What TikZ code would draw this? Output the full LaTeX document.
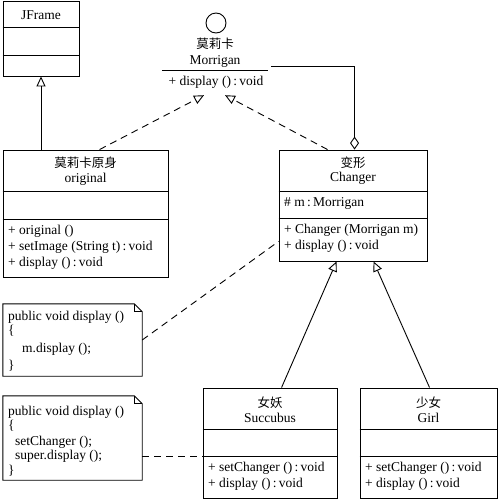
\documentclass[tikz,border=0pt]{standalone}
\usepackage{fontspec}
\setmainfont{Liberation Serif}
\newfontfamily\cjk{Noto Sans CJK SC}
\usetikzlibrary{arrows.meta,calc}
\newcommand\divline[2]{\draw[thinline] ($(#1.north west)+(0,#2)$) -- ($(#1.north east)+(0,#2)$);}
\newcommand\cln{\,:\,}
\begin{document}
\begin{tikzpicture}[x=1pt,y=-1pt,
  thinline/.style={line width=0.9pt},
  cls/.style={draw, line width=0.9pt, inner sep=0pt},
  lbl/.style={inner sep=0pt, font=\fontsize{13.5}{15}\selectfont},
  cjkl/.style={inner sep=0pt, font=\cjk\fontsize{12.5}{15}\selectfont},
  mem/.style={lbl, anchor=mid west},
  gen/.style={draw, line width=0.9pt, -{Triangle[open,length=10pt,width=9pt]}},
  real/.style={gen, dash pattern=on 7pt off 5pt},
  agg/.style={draw, line width=0.9pt, -{Diamond[open,length=13pt,width=9pt]}},
  noteline/.style={line width=0.9pt, dash pattern=on 7pt off 5pt}]
\fill[white] (0,0) rectangle (500,501);
\useasboundingbox (0,0) rectangle (500,501);

% JFrame
\node[cls, minimum width=76, minimum height=75] (jframe) at (41,38.5) {};
\divline{jframe}{27}
\divline{jframe}{55}
\node[lbl] (jframeT) at (41,15) {JFrame};

% interface Morrigan
\node[draw, circle, line width=0.9pt, minimum size=20, inner sep=0pt] (icirc) at (216,23) {};
\node[cjkl] (ifaceC) at (215,44) {莫莉卡};
\node[lbl] (ifaceN) at (215,61) {Morrigan};
\node[minimum width=106, minimum height=24, inner sep=0pt] (iface) at (215,83) {};
\draw[thinline] (iface.north west) -- (iface.north east);
\node[lbl] (ifaceM) at (216,82) {+ display ()\cln void};

% original
\node[cls, minimum width=165, minimum height=127] (orig) at (85.5,213.5) {};
\divline{orig}{42}
\divline{orig}{70}
\node[cjkl] (origC) at (85.5,163) {莫莉卡原身};
\node[lbl] (origN) at (85.5,179) {original};
\node[mem] (origM1) at (8,232) {+ original ()};
\node[mem] (origM2) at (8,248) {+ setImage (String t)\cln void};
\node[mem] (origM3) at (8,264) {+ display ()\cln void};

% Changer
\node[cls, minimum width=148, minimum height=111] (changer) at (353,205.5) {};
\divline{changer}{42}
\divline{changer}{69}
\node[cjkl] (changerC) at (353,163) {变形};
\node[lbl] (changerN) at (353,178) {Changer};
\node[mem] (changerA) at (284,204) {\# m\cln Morrigan};
\node[mem] (changerM1) at (284,231) {+ Changer (Morrigan m)};
\node[mem] (changerM2) at (284,247) {+ display ()\cln void};

% Succubus
\node[cls, minimum width=134, minimum height=110] (succ) at (270,443) {};
\divline{succ}{42}
\divline{succ}{69}
\node[cjkl] (succC) at (270,403) {女妖};
\node[lbl] (succN) at (270,418) {Succubus};
\node[mem] (succM1) at (208,469) {+ setChanger ()\cln void};
\node[mem] (succM2) at (208,485) {+ display ()\cln void};

% Girl
\node[cls, minimum width=137, minimum height=110] (girl) at (428.5,443) {};
\divline{girl}{42}
\divline{girl}{69}
\node[cjkl] (girlC) at (428.5,403) {少女};
\node[lbl] (girlN) at (428.5,418) {Girl};
\node[mem] (girlM1) at (365,469) {+ setChanger ()\cln void};
\node[mem] (girlM2) at (365,485) {+ display ()\cln void};

% notes
\node[minimum width=139, minimum height=72, inner sep=0pt] (note1) at (72.5,340) {};
\draw[thinline] (note1.north west) -- ($(note1.north east)+(-8,0)$) -- ($(note1.north east)+(0,8)$) -- (note1.south east) -- (note1.south west) -- cycle;
\draw[thinline] ($(note1.north east)+(-8,0)$) -- ($(note1.north east)+(-8,8)$) -- ($(note1.north east)+(0,8)$);
\node[mem] (n1a) at (8,318) {public void display ()};
\node[mem] (n1b) at (8,332) {\{};
\node[mem] (n1c) at (22,350) {m.display ();};
\node[mem] (n1d) at (8,367) {\}};

\node[minimum width=139, minimum height=84, inner sep=0pt] (note2) at (72.5,438) {};
\draw[thinline] (note2.north west) -- ($(note2.north east)+(-8,0)$) -- ($(note2.north east)+(0,8)$) -- (note2.south east) -- (note2.south west) -- cycle;
\draw[thinline] ($(note2.north east)+(-8,0)$) -- ($(note2.north east)+(-8,8)$) -- ($(note2.north east)+(0,8)$);
\node[mem] (n2a) at (8,413) {public void display ()};
\node[mem] (n2b) at (8,427) {\{};
\node[mem] (n2c) at (15,443) {setChanger ();};
\node[mem] (n2d) at (15,457) {super.display ();};
\node[mem] (n2e) at (8,472) {\}};

% connectors
\draw[gen] (orig.north -| jframe.south) -- (jframe.south);
\draw[real] ($(orig.north west)+(97,0)$) -- ($(iface.south)+(-11,0)$);
\draw[real] ($(changer.north west)+(49,0)$) -- ($(iface.south)+(10,0)$);
\draw[agg] ($(iface.north east)+(3,-4)$) -| ($(changer.north west)+(76,0)$);
\draw[gen] ($(succ.north west)+(79,0)$) -- ($(changer.south west)+(58,0)$);
\draw[gen] ($(girl.north west)+(70,0)$) -- ($(changer.south west)+(95,0)$);
\draw[noteline] (note1.east) -- ($(changer.south west)+(0,-20)$);
\coordinate (s2) at ($(succ.north west)+(0,69)$);
\draw[noteline] (note2.east |- s2) -- (s2);
\end{tikzpicture}
\end{document}
